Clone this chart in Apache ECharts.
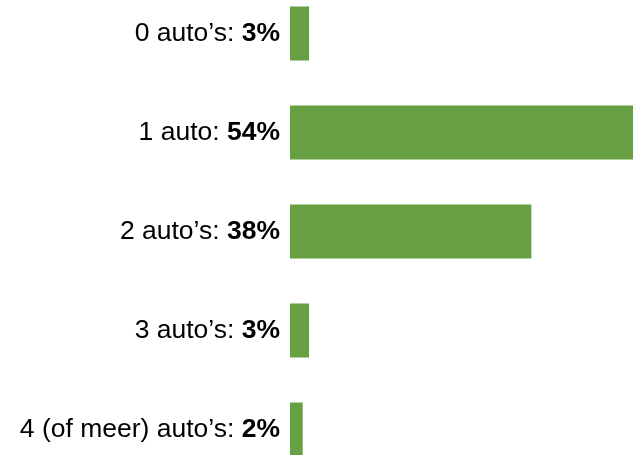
<!DOCTYPE html>
<html>
<head>
<meta charset="utf-8">
<script src="https://cdn.jsdelivr.net/npm/echarts@6/dist/echarts.min.js"></script>
<style>
html, body { margin: 0; padding: 0; background: #fff; }
#chart { width: 633px; height: 455px; }
</style>
</head>
<body>
<div id="chart"></div>
<script>
// categorieen en percentages
const categories = ["0 auto’s", "1 auto", "2 auto’s", "3 auto’s", "4 (of meer) auto’s"]
const values = [3, 54, 38, 3, 2]

const chart = echarts.init(document.getElementById("chart"))

chart.setOption({
  animation: false,
  grid: {
    left: 290,
    right: 0,
    top: -16,
    height: 495,
    outerBoundsMode: "none",
    containLabel: false
  },
  xAxis: {
    type: "value",
    min: 0,
    max: 54,
    show: false
  },
  yAxis: {
    type: "category",
    inverse: true,
    data: categories,
    axisLine: { show: false },
    axisTick: { show: false },
    axisLabel: {
      margin: 10,
      formatter: (name, i) => "{n|" + name + ": }{b|" + values[i] + "%}",
      rich: {
        n: { fontFamily: "Liberation Sans", fontSize: 26.5, color: "#000" },
        b: { fontFamily: "Liberation Sans", fontSize: 26.5, fontWeight: "bold", color: "#000" }
      }
    }
  },
  series: [
    {
      type: "bar",
      data: values,
      barWidth: 54,
      itemStyle: { color: "#66a043" }
    }
  ]
})
</script>
</body>
</html>
